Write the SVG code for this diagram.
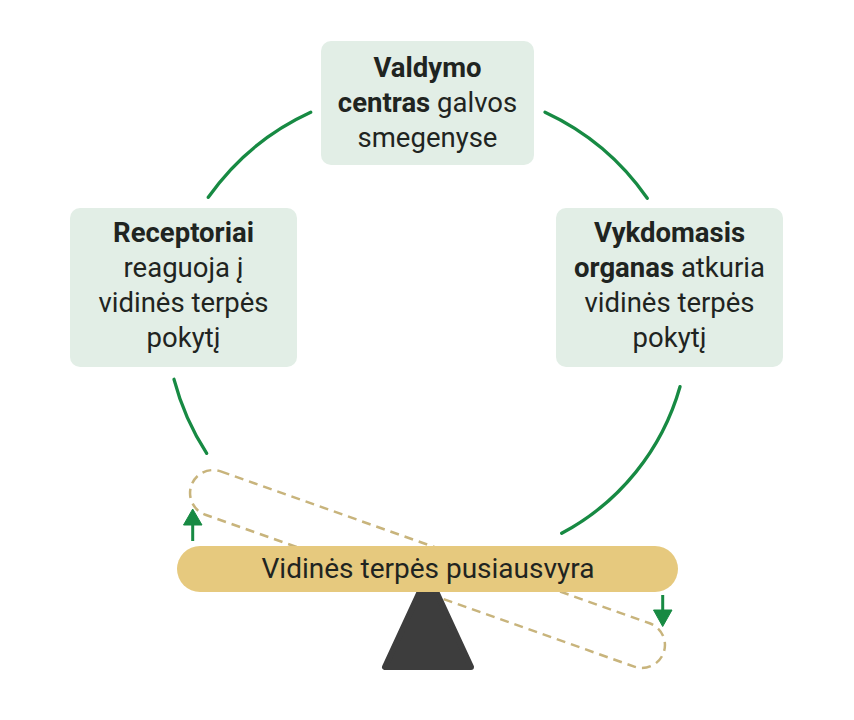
<svg xmlns="http://www.w3.org/2000/svg" width="854" height="720" viewBox="0 0 854 720">
<style>
.box{fill:#e2eee6;}
.t{font-family:Roboto,"Liberation Sans",sans-serif;font-size:27.5px;fill:#1f2421;text-anchor:middle;}
.b{font-weight:bold;}
.arc{fill:none;stroke:#178a43;stroke-width:3.3;stroke-linecap:round;}
.arrow{fill:#178a43;stroke:#178a43;}
</style>
<rect width="854" height="720" fill="#ffffff"/>
<g id="connectors">
<path class="arc" d="M208.3,197.3 A255,255 0 0 1 310.7,112.3"/>
<path class="arc" d="M545,112.3 A255,255 0 0 1 647.3,198.3"/>
<path class="arc" d="M174,379.3 A255,255 0 0 0 206.7,453.3"/>
<path class="arc" d="M680,386.7 A240,240 0 0 1 561.7,533.3"/>
<line x1="192.7" y1="541" x2="192.7" y2="522" stroke="#178a43" stroke-width="3"/>
<polygon class="arrow" points="183.5,525 192.7,509 202,525"/>
<line x1="662.7" y1="595" x2="662.7" y2="613" stroke="#178a43" stroke-width="3"/>
<polygon class="arrow" points="653.5,610 662.7,626.5 672,610"/>
</g>
<g id="seesaw">
<rect x="177" y="546" width="501" height="46" rx="23" transform="rotate(19.5 427.5 569)" fill="none" stroke="#c8b47c" stroke-width="2.5" stroke-dasharray="9 6"/>
<polygon points="428,574 385,667 471,667" fill="#3d3d3d" stroke="#3d3d3d" stroke-width="6" stroke-linejoin="round"/>
<rect x="177" y="546" width="501" height="46" rx="23" fill="#e6c97e"/>
<text class="t" x="428" y="578" style="font-size:28px">Vidinės terpės pusiausvyra</text>
</g>
<g id="control">
<rect class="box" x="321" y="41" width="213" height="124" rx="10"/>
<text class="t b" x="427.5" y="77">Valdymo</text>
<text class="t" x="427.5" y="112"><tspan class="b">centras</tspan> galvos</text>
<text class="t" x="427.5" y="147">smegenyse</text>
</g>
<g id="receptors">
<rect class="box" x="70" y="208" width="227" height="159" rx="10"/>
<text class="t b" x="183.5" y="242">Receptoriai</text>
<text class="t" x="183.5" y="277">reaguoja į</text>
<text class="t" x="183.5" y="312">vidinės terpės</text>
<text class="t" x="183.5" y="347">pokytį</text>
</g>
<g id="effector">
<rect class="box" x="556" y="208" width="227" height="159" rx="10"/>
<text class="t b" x="669.5" y="242">Vykdomasis</text>
<text class="t" x="669.5" y="277"><tspan class="b">organas</tspan> atkuria</text>
<text class="t" x="669.5" y="312">vidinės terpės</text>
<text class="t" x="669.5" y="347">pokytį</text>
</g>
</svg>
